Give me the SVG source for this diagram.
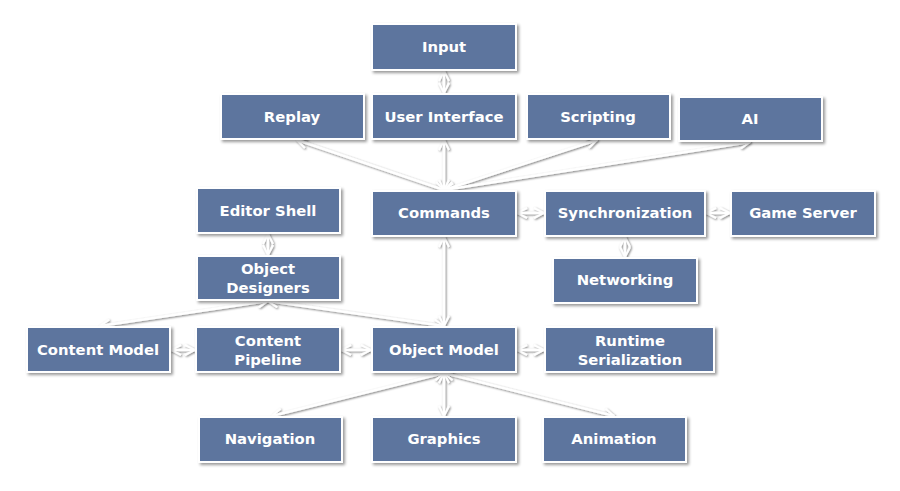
<svg xmlns="http://www.w3.org/2000/svg" width="900" height="491" viewBox="0 0 900 491">
<defs>
<filter id="sh" x="-20%" y="-20%" width="140%" height="160%">
<feDropShadow dx="2" dy="2" stdDeviation="1.5" flood-color="#000" flood-opacity="0.4"/>
</filter>
<filter id="lsh" x="-50%" y="-50%" width="200%" height="200%">
<feDropShadow dx="1" dy="1" stdDeviation="1" flood-color="#000" flood-opacity="0.55"/>
</filter>
<marker id="ah" viewBox="0 0 12 12" refX="11" refY="6" markerWidth="12" markerHeight="12" markerUnits="userSpaceOnUse" orient="auto-start-reverse">
<path d="M1,1 L11,6 L1,11" fill="none" stroke="#ffffff" stroke-width="2"/>
</marker>
</defs>
<style>
.box rect{fill:#5d759e;stroke:#ffffff;stroke-width:2;filter:url(#sh)}
.box text{fill:#ffffff;font-family:"DejaVu Sans","Liberation Sans",sans-serif;font-weight:bold;font-size:14.8px;text-anchor:middle}
.conn line{stroke:#ffffff;stroke-width:2.5;marker-start:url(#ah);marker-end:url(#ah)}
</style>
<rect width="900" height="491" fill="#ffffff"/>
<g id="connectors" class="conn" filter="url(#lsh)">
<line x1="444" y1="71" x2="444" y2="93"/>
<line x1="444" y1="190" x2="297" y2="140"/>
<line x1="444" y1="190" x2="444" y2="140"/>
<line x1="444" y1="190" x2="597" y2="140"/>
<line x1="444" y1="190" x2="750" y2="142"/>
<line x1="517" y1="213" x2="544" y2="213"/>
<line x1="706" y1="213" x2="730" y2="213"/>
<line x1="625" y1="237" x2="625" y2="257"/>
<line x1="444" y1="237" x2="444" y2="326"/>
<line x1="268" y1="234" x2="268" y2="255"/>
<line x1="268" y1="301" x2="100" y2="326"/>
<line x1="268" y1="301" x2="444" y2="326"/>
<line x1="171" y1="350" x2="195" y2="350"/>
<line x1="341" y1="350" x2="371" y2="350"/>
<line x1="517" y1="350" x2="544" y2="350"/>
<line x1="444" y1="373" x2="272" y2="416"/>
<line x1="444" y1="373" x2="444" y2="416"/>
<line x1="444" y1="373" x2="614" y2="416"/>
</g>
<g id="input" class="box"><rect x="372" y="24" width="144" height="46"/><text x="444" y="52">Input</text></g>
<g id="replay" class="box"><rect x="221" y="94" width="143" height="45"/><text x="292" y="122">Replay</text></g>
<g id="user-interface" class="box"><rect x="372" y="94" width="144" height="45"/><text x="444" y="122">User Interface</text></g>
<g id="scripting" class="box"><rect x="527" y="94" width="143" height="45"/><text x="598" y="122">Scripting</text></g>
<g id="ai" class="box"><rect x="679" y="97" width="143" height="44"/><text x="750" y="124">AI</text></g>
<g id="commands" class="box"><rect x="372" y="191" width="144" height="45"/><text x="444" y="218">Commands</text></g>
<g id="synchronization" class="box"><rect x="545" y="191" width="160" height="45"/><text x="625" y="218">Synchronization</text></g>
<g id="game-server" class="box"><rect x="731" y="191" width="144" height="45"/><text x="803" y="218">Game Server</text></g>
<g id="editor-shell" class="box"><rect x="197" y="188" width="143" height="45"/><text x="268" y="216">Editor Shell</text></g>
<g id="object-designers" class="box"><rect x="197" y="256" width="143" height="44"/><text x="268" y="274">Object</text><text x="268" y="293">Designers</text></g>
<g id="networking" class="box"><rect x="553" y="258" width="144" height="45"/><text x="625" y="285">Networking</text></g>
<g id="content-model" class="box"><rect x="27" y="327" width="143" height="45"/><text x="98" y="355">Content Model</text></g>
<g id="content-pipeline" class="box"><rect x="196" y="327" width="144" height="45"/><text x="268" y="346">Content</text><text x="268" y="365">Pipeline</text></g>
<g id="object-model" class="box"><rect x="372" y="327" width="144" height="45"/><text x="444" y="355">Object Model</text></g>
<g id="runtime-serialization" class="box"><rect x="545" y="327" width="169" height="45"/><text x="630" y="346">Runtime</text><text x="630" y="365">Serialization</text></g>
<g id="navigation" class="box"><rect x="199" y="417" width="143" height="45"/><text x="270" y="444">Navigation</text></g>
<g id="graphics" class="box"><rect x="372" y="417" width="144" height="45"/><text x="444" y="444">Graphics</text></g>
<g id="animation" class="box"><rect x="543" y="417" width="143" height="45"/><text x="614" y="444">Animation</text></g>
</svg>
